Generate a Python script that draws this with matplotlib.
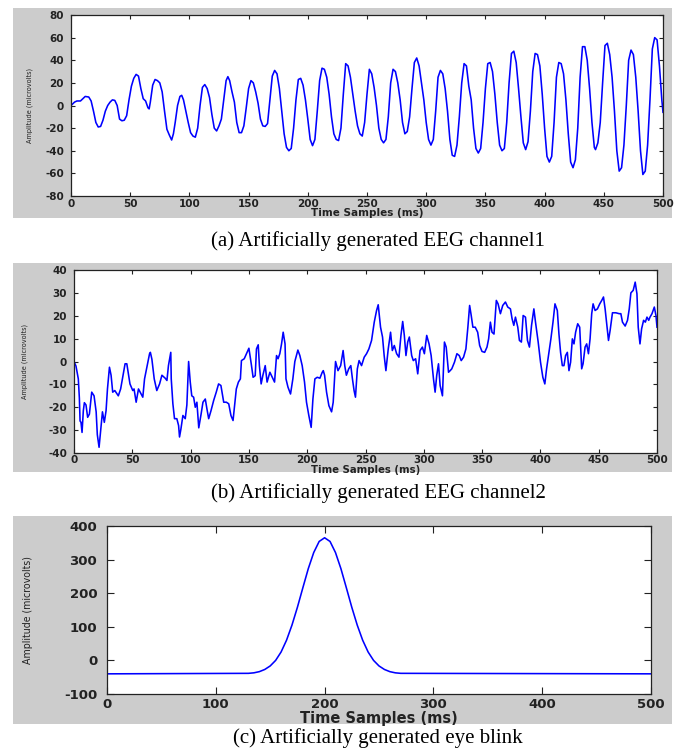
import matplotlib
matplotlib.use("Agg")
import matplotlib.pyplot as plt
from matplotlib.patches import Rectangle

W, H = 686, 749
plt.rcParams["axes.unicode_minus"] = False

# channel 1
t1 = [0, 3, 5, 8, 10, 12, 15, 17, 19, 21, 23, 25, 27, 29, 31, 33, 35, 37, 39, 41, 43, 45, 47, 49,
      51, 53, 55, 57, 59, 61, 63, 65, 66, 67, 69, 71, 73, 75, 77, 79, 81, 83, 85, 86.5, 88, 90, 92,
      93.5, 95, 97, 99, 101, 103, 105, 107, 109, 111, 113, 115, 117, 119, 121, 123, 125, 127, 129,
      131, 132.5, 134, 136, 138, 140, 142, 144, 146, 148, 150, 152, 154, 156, 158, 160, 162, 164,
      166, 168, 170, 172, 174, 176, 178, 180, 182, 184, 186, 188, 190, 192, 194, 196, 198, 200,
      202, 204, 206, 208, 210, 212, 214, 216, 218, 220, 222, 224, 226, 228, 230, 232, 234, 236,
      238, 240, 242, 244, 246, 248, 250, 252, 254, 256, 258, 260, 262, 264, 266, 268, 270, 272,
      274, 276, 278, 280, 282, 284, 286, 288, 290, 292, 294, 296, 298, 300, 302, 304, 306, 308,
      310, 312, 314, 316, 318, 320, 322, 324, 326, 328, 330, 332, 334, 336, 338, 340, 342, 344,
      346, 348, 350, 352, 354, 356, 358, 360, 362, 364, 366, 368, 370, 372, 374, 376, 378, 380,
      382, 384, 386, 388, 390, 392, 394, 396, 398, 400, 402, 404, 406, 408, 410, 412, 414, 416,
      418, 420, 422, 424, 426, 428, 430, 432, 434, 436, 438, 440, 442, 443, 445, 447, 449, 451,
      453, 455, 457, 459, 461, 463, 465, 467, 469, 471, 473, 475, 477, 479, 481, 483, 485, 487,
      489, 491, 493, 495, 497, 499, 500]
v1 = [0, 3, 4, 4, 6, 8, 7.5, 4, -5, -15, -19, -18.5, -13, -5, 0, 3, 5, 4.5, 0, -12, -13.5, -13, -9, 5,
      17, 24, 27.5, 26, 15, 6, 4, -2, -3, 3, 18, 23, 22, 20, 12, -5, -21, -26, -30.5, -25, -15, 0, 8,
      9, 5, -5, -15, -24, -27, -28, -20, 0, 16, 18.5, 15, 7, -8, -20, -22.5, -18, -12, 5,
      22, 25.5, 22, 12, 3, -15, -24, -24, -18, -2, 15, 22, 20, 12, 2, -12, -18, -18.5,
      -16, 5, 26, 31, 28, 15, -5, -25, -37, -40, -38, -20, 5, 23, 24, 18, 5, -12,
      -30, -35.5, -30, -5, 22, 33, 32, 25, 10, -10, -25, -30, -31, -20, 10, 37, 35, 25,
      10, -5, -18, -25, -27, -15, 10, 32, 28, 16, 0, -20, -30, -33, -30, -10, 20, 32,
      30, 20, 5, -15, -25, -23, -10, 15, 38, 42, 35, 20, 5, -15, -30, -35, -30, -5,
      25, 31, 28, 15, -5, -30, -44, -45, -35, -10, 20, 37, 35, 17, 5, -20, -38, -42,
      -38, -15, 15, 37, 38, 30, 10, -15, -35, -40, -38, -15, 20, 46, 48, 38, 15, -10,
      -33, -39, -32, -5, 30, 46, 45, 35, 10, -20, -45, -50, -45, -15, 25, 38, 37, 28,
      5, -25, -50, -55, -48, -20, 25, 52, 52, 40, 15, -15, -37, -39, -33, -15, 20, 53,
      55, 45, 25, -5, -40, -58, -55, -35, 0, 40, 49, 45, 25, -5, -40, -61, -58, -35,
      5, 50, 60, 58, 35, 5, -6]

# channel 2
t2 = [0, 1.7, 3.7, 4.6, 5.2, 6, 6.9, 8, 8.9, 10.3, 11.7, 13.2, 15.2, 17.2, 19, 20, 21.5, 23, 24.4,
      26, 27.5, 28.7, 30.4, 31.8, 33.2, 35, 38, 40, 43.8, 45.3, 48, 50.4, 51.5, 53.3, 55.3, 56.7,
      59, 60.5, 62.5, 64.8, 65.5, 66.8, 68.8, 71, 73.4, 75.4, 78.2, 79.7, 81, 82.5, 83, 83.4, 84.8,
      86.2, 88.2, 89.7, 90.5, 91.7, 93.4, 95.4, 96.8, 98.3, 99.7, 101, 102.6, 104, 105.4, 107, 109,
      110.6, 112.6, 114, 115.5, 117.5, 119.8, 122, 124, 126, 128.4, 130.7, 132.7, 134.6, 136.4,
      137.8, 139.2, 141, 142.7, 143.6, 146, 148.4, 150, 152, 153.6, 155.4, 156.5, 158, 159, 160.5,
      162, 164, 165.6, 168, 170, 172, 173.7, 175, 176.5, 178, 179.4, 181, 181.8, 183.5, 185.7,
      187.7, 189.4, 192, 193.7, 195.7, 197.7, 199.4, 201.4, 203.4, 204.9, 206.6, 208.6, 210.9,
      212.9, 213.8, 214.9, 216.6, 218.6, 220.9, 222.3, 224.3, 226.4, 228.7, 230.8, 232.2, 233.6,
      235.6, 237.4, 238.8, 240.2, 241.4, 243, 244.5, 246.6, 248.9, 250.9, 252.9, 255.2, 257.5,
      259.5, 260.9, 262.9, 264.6, 266, 267.5, 269.5, 271.5, 273, 274.7, 276.7, 278.7, 280.4,
      281.9, 283.3, 284.7, 286.2, 287.6, 289.6, 291, 293, 294.8, 296.8, 298.8, 300.5, 302.5,
      304.5, 306.3, 308.3, 309.7, 311.1, 312.6, 314, 316, 317.7, 319.2, 321.2, 322.6, 324, 326.3,
      328.4, 330.4, 332.1, 334.1, 336.1, 337.8, 339.3, 340.7, 342.1, 344.1, 346.2, 347.9, 349.9,
      352.2, 354.2, 355.6, 357.1, 358.5, 360.2, 362.2, 363.7, 365.7, 367.7, 370, 372, 374.3,
      375.7, 377.2, 378.6, 380.6, 382, 383.7, 385.2, 387.2, 388.9, 390.6, 392.4, 394.4, 395.8,
      398.1, 400.1, 402.1, 403.8, 405.3, 407.3, 409, 410.8, 412.5, 414.5, 415.9, 417.3, 418.8,
      420.2, 421.6, 423.1, 424.5, 425.9, 427.4, 428.8, 430.2, 432, 433.7, 435.4, 436.6, 438.3,
      439.7, 441.2, 442.6, 444, 445.2, 446.9, 448.9, 450.9, 452.6, 454.1, 455.5, 457, 458.4,
      459.8, 461.8, 464.7, 467.6, 469, 470.4, 472.7, 474.7, 476.2, 477.6, 479.6, 481.3, 482.8,
      483.9, 485.4, 486.8, 488.5, 490, 491.4, 492.9, 494, 495.7, 497.7, 499.1, 500]
v2 = [0, -2, -7.6, -16, -26, -26.6, -31, -21.5, -18, -19, -24.4, -23, -13.4, -15, -22, -32, -37.5, -29.5,
      -22, -26.6, -21.5, -12, -2.5, -6, -13.4, -12.7, -15, -12, -1, -1, -9.8, -12.7, -12, -17.8, -12,
      -13.4, -15.6, -7.6, -2.5, 3.4, 4, 1, -7.6, -12.7, -9.8, -6, -7.3, -8.3, -1.8, 2.6, 4, -7.6,
      -18.5, -25, -25, -28, -33, -29.5, -23.6, -25, -19, 0, -9, -15, -15.6, -20, -17.8, -29, -23,
      -17.8, -16.4, -20.7, -25, -21.5, -17, -13.4, -9.8, -10.5, -17.8, -17.8, -18.5, -23.6, -25.8,
      -19, -12, -9, -7.6, 0.4, 1.2, 4, 5.8, -1, -6.9, -6.2, 5.5, 7.3, -1.8, -9.8,
      -6, -1.8, -9, -4.7, -6.9, -9, 2.6, 1.2, 3.4, 7.7, 12.8, 7.7, -7.6, -11.2, -14.2,
      -7.6, 0, 5, 2.6, -1.8, -9, -17.8, -23.6, -28.8, -16.4, -7.6, -6.9, -7.3,
      -4.7, -4, -6, -13.4, -19.3, -22, -17.8, 0, -4, -1.8, 4.8, -1.8, -6,
      -3.2, -1.8, -7.6, -12.7, -15.6, -3.2, 0.4, -1.8, 1.9, 3.4, 5.5, 9.2, 17.2,
      22.3, 24.8, 15, 10.7, 2.6, -4, 5.5, 12.8, 4.8, 7, 3.4, 1.9, 11.4,
      17.5, 11.4, 2.6, 8.5, 10.7, 2.6, 0.4, 1.2, -5.4, 4.8, 6.3, 3.4, 11.4,
      7.7, 2.6, -7.6, -13.4, -6, -1, -10.5, -15, 8.5, 6.3, -4.7, -4, -3.2, -0.3,
      3.4, 2.6, 0.4, 1.9, 5.5, 15, 24.5, 20, 15, 15, 12.8, 7, 4.4,
      4, 6.3, 9.9, 17.2, 12.8, 12, 26.7, 25.2, 20.9, 24.5, 26, 23.8, 23,
      18.7, 15.8, 19.4, 15, 9.2, 8.5, 20.1, 19.4, 9.2, 6.3, 15.8, 23, 17.2,
      8.5, -0.3, -6.9, -9.8, -3.2, 4, 9.9, 17.2, 25.2, 22.3, 12, 4, -1.8,
      -1.8, 2.6, 4, -4, -0.3, 9.9, 7.7, 12.8, 16.5, 15, -3.2, -1, 6.3,
      7.7, 3.4, 9.9, 20.9, 25.2, 22.3, 23, 25.2, 26.7, 28.2, 23, 15.8, 9.2,
      13.6, 21.3, 21.3, 20.9, 20.9, 17.2, 15.5, 18, 23, 30, 31.1, 34.7, 29.6,
      15, 7.7, 14.3, 18, 17.2, 19.4, 18, 19.4, 20.9, 23.8, 20.1, 15]

# eye blink
t3 = [0, 130, 135, 140, 145, 150, 155, 160, 165, 170, 175, 180, 185, 190, 195, 200,
      205, 210, 215, 220, 225, 230, 235, 240, 245, 250, 255, 260, 265, 270, 500]
v3 = [-40, -38.5, -37, -33.5, -27, -16.5, 0, 25, 60, 105, 158, 216, 273, 321, 354, 365,
      354, 321, 273, 216, 158, 105, 60, 25, 0, -16.5, -27, -33.5, -37, -38.5, -40]

captions = ["(a) Artificially generated EEG channel1",
            "(b) Artificially generated EEG channel2",
            "(c) Artificially generated eye blink"]


def px_box(x0, y0, x1, y1):
    # pixel box (top-left origin) -> figure fraction rect
    return [x0 / W, 1 - y1 / H, (x1 - x0) / W, (y1 - y0) / H]


def make_panel(fig, gray, box, t, v, xticks, yticks, ylim, fs, tick_len, ylab_x, xlab_y, ylab_fs, xlab_fs,
               xpad, ypad):
    fig.add_artist(Rectangle((gray[0] / W, 1 - gray[3] / H), (gray[2] - gray[0]) / W,
                             (gray[3] - gray[1]) / H, transform=fig.transFigure,
                             facecolor="#cccccc", edgecolor="none", zorder=0))
    ax = fig.add_axes(px_box(*box))
    ax.plot(t, v, color="#0000ff", lw=1.15)
    ax.set_xlim(0, 500)
    ax.set_ylim(*ylim)
    ax.set_xticks(xticks)
    ax.set_yticks(yticks)
    ax.tick_params(direction="in", top=True, right=True, length=tick_len, width=0.8,
                   labelsize=fs, colors="#222222")
    ax.tick_params(axis="x", pad=xpad)
    ax.tick_params(axis="y", pad=ypad)
    for lab in ax.get_xticklabels() + ax.get_yticklabels():
        lab.set_fontweight("bold")
    for s in ax.spines.values():
        s.set_linewidth(0.9)
        s.set_color("#222222")
    cy = (box[1] + box[3]) / 2
    fig.text(ylab_x / W, 1 - cy / H, "Amplitude (microvolts)", rotation=90, ha="center", va="center",
             fontsize=ylab_fs, fontstretch="condensed", color="#222222")
    cx = (box[0] + box[2]) / 2
    fig.text(cx / W, 1 - xlab_y / H, "Time Samples (ms)", ha="center", va="center",
             fontsize=xlab_fs, fontweight="bold", color="#222222")
    return ax


fig = plt.figure(figsize=(W / 100, H / 100), dpi=100)

make_panel(fig, (13, 8, 672, 218), (71, 15, 663, 196), t1, v1,
           range(0, 501, 50), range(-80, 81, 20), (-80, 80), 7.5, 3, 30, 213, 5.2, 7.5, 2, 5)
fig.text(378 / W, 1 - 241 / H, captions[0], ha="center", va="center", fontsize=15,
         family="Liberation Serif")

make_panel(fig, (13, 263, 672, 472), (74, 270, 657, 453), t2, v2,
           range(0, 501, 50), range(-40, 41, 10), (-40, 40), 7.5, 3, 25, 470, 5.2, 7.3, 1.5, 5)
fig.text(378 / W, 1 - 493 / H, captions[1], ha="center", va="center", fontsize=15,
         family="Liberation Serif")

make_panel(fig, (13, 516, 672, 724), (107, 526, 651, 694), t3, v3,
           range(0, 501, 100), range(-100, 401, 100), (-100, 400), 9.5, 5, 28, 719, 7.6, 10.5, 3, 7)
fig.text(378 / W, 1 - 738 / H, captions[2], ha="center", va="center", fontsize=15,
         family="Liberation Serif")

fig.savefig("out.png", dpi=100)
